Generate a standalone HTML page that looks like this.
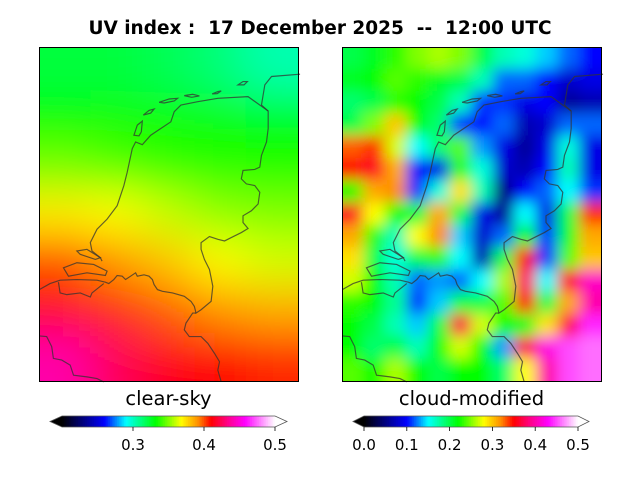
<!DOCTYPE html>
<html><head><meta charset="utf-8"><style>
html,body{margin:0;padding:0;background:#fff;width:640px;height:480px;overflow:hidden;}
svg{display:block;font-family:"DejaVu Sans","Liberation Sans",sans-serif;}
</style></head><body>
<svg id="fig" width="640" height="480" viewBox="0 0 640 480">
<defs>
<clipPath id="clipL"><rect x="39" y="47" width="259" height="334"/></clipPath>
<clipPath id="clipR"><rect x="342" y="47" width="259" height="334"/></clipPath>
<filter id="blurL" x="-20%" y="-20%" width="140%" height="140%"><feGaussianBlur stdDeviation="22"/></filter>
<filter id="blurR" x="-20%" y="-20%" width="140%" height="140%"><feGaussianBlur stdDeviation="7"/></filter>
<g id="coast">
<path d="M785,88 L700,95 L680,120 L670,180 L690,198 L690,250 L685,290 L670,330 L665,365 L650,372 L615,375 L610,400 L625,415 L650,420 L665,440 L660,475 L640,495 L615,510 L615,530 L630,548 L610,560 L580,575 L560,585 L540,580 L515,572 L490,590 L490,610 L500,640 L515,670 L525,720 L520,765 L490,790 L475,800 L470,780 L460,765 L440,750 L405,740 L375,735 L360,730 L350,715 L345,700 L335,690 L320,686 L300,690 L295,680 L280,690 L265,700 L255,690 L240,688 L230,700 L215,712 L205,708 L180,702 L120,700 L70,702 L40,712 L8,730"/>
<path d="M475,800 L465,800 L445,830 L440,850 L455,870 L490,870 L510,890 L530,920 L545,945 L540,970 L550,1005"/>
<path d="M690,198 L630,155 L540,160 L480,170 L430,180 L410,200 L400,230 L370,250 L340,270 L315,298 L295,290 L285,310 L270,380 L260,420 L240,480 L210,520 L180,550 L160,590 L165,615 L190,635 L195,645"/>
<path d="M290,270 L300,240 L315,228 L312,260 L305,272 Z"/>
<path d="M318,210 L335,196 L350,192 L340,204 Z"/>
<path d="M365,172 L395,162 L420,160 L410,168 L380,174 Z"/>
<path d="M440,152 L465,148 L485,153 L462,157 Z"/>
<path d="M523,147 L540,140 L550,138 L538,146 Z"/>
<path d="M600,120 L615,110 L628,110 L618,120 Z"/>
<path d="M120,615 L150,610 L190,635 L175,640 L130,625 Z"/>
<path d="M80,665 L120,650 L170,655 L210,675 L205,688 L150,680 L95,690 Z"/>
<path d="M65,708 L70,740 L90,745 L130,740 L160,752 L165,740 L200,712"/>
<path d="M8,868 L30,870 L45,900 L50,935 L75,940 L100,955 L110,985 L150,990 L180,995 L200,1005"/>
</g>
</defs>
<text x="320" y="34" text-anchor="middle" font-size="18.5" font-weight="bold" style="white-space:pre" xml:space="preserve">UV index :  17 December 2025  --  12:00 UTC</text>
<g id="panelL"></g>
<g id="panelR"></g>
<g id="coastL" transform="translate(39.3,47.3) scale(0.3356) translate(-8,-8)" fill="none" stroke="#333" stroke-opacity="0.75" stroke-width="3.5"><use href="#coast"/></g>
<g id="coastR" transform="translate(342.3,47.3) scale(0.3356) translate(-8,-8)" fill="none" stroke="#333" stroke-opacity="0.75" stroke-width="3.5"><use href="#coast"/></g>
<rect x="39.5" y="47.5" width="259" height="334" fill="none" stroke="#000" stroke-width="1"/>
<rect x="342.5" y="47.5" width="259" height="334" fill="none" stroke="#000" stroke-width="1"/>
<text x="168.5" y="405" text-anchor="middle" font-size="19.5">clear-sky</text>
<text x="471.5" y="405" text-anchor="middle" font-size="19.5">cloud-modified</text>
<g id="cbarL"></g>
<g id="cbarR"></g>
</svg>
<script>
// ---- data ----
const leftRange = [0.2, 0.5];
const rightRange = [0.0, 0.5];
const leftTicks = [0.3, 0.4, 0.5];
const rightTicks = [0.0, 0.1, 0.2, 0.3, 0.4, 0.5];
const clearSky = [
 [0.322,0.322,0.318,0.312,0.303],
 [0.332,0.333,0.333,0.333,0.33],
 [0.348,0.343,0.338,0.336,0.335],
 [0.372,0.368,0.36,0.352,0.35],
 [0.40,0.39,0.38,0.368,0.362],
 [0.412,0.405,0.398,0.39,0.385],
 [0.44,0.425,0.415,0.41,0.405]
];
const cloudModified = [
 [0.2,0.21,0.23,0.25,0.26,0.25,0.2,0.17,0.16,0.14,0.12,0.1],
 [0.21,0.22,0.24,0.23,0.21,0.2,0.17,0.12,0.12,0.1,0.08,0.09],
 [0.19,0.2,0.23,0.22,0.2,0.17,0.11,0.11,0.09,0.1,0.06,0.07],
 [0.2,0.25,0.3,0.22,0.19,0.11,0.1,0.12,0.07,0.08,0.12,0.12],
 [0.33,0.34,0.27,0.15,0.19,0.24,0.13,0.09,0.06,0.09,0.16,0.09],
 [0.35,0.36,0.31,0.1,0.09,0.23,0.16,0.08,0.07,0.1,0.17,0.09],
 [0.22,0.31,0.32,0.11,0.16,0.29,0.17,0.05,0.1,0.12,0.15,0.11],
 [0.36,0.28,0.22,0.2,0.31,0.2,0.09,0.06,0.15,0.09,0.2,0.34],
 [0.31,0.23,0.17,0.28,0.32,0.14,0.08,0.12,0.22,0.11,0.21,0.31],
 [0.29,0.2,0.16,0.2,0.23,0.15,0.07,0.2,0.35,0.11,0.24,0.3],
 [0.27,0.22,0.17,0.12,0.13,0.12,0.15,0.26,0.38,0.15,0.36,0.41],
 [0.23,0.22,0.18,0.11,0.14,0.2,0.2,0.24,0.35,0.2,0.31,0.4],
 [0.22,0.2,0.17,0.14,0.2,0.37,0.27,0.22,0.21,0.29,0.37,0.44],
 [0.22,0.19,0.2,0.17,0.22,0.27,0.22,0.13,0.37,0.42,0.45,0.46],
 [0.24,0.22,0.26,0.22,0.2,0.22,0.22,0.19,0.28,0.4,0.45,0.46]
];
// ---- colormap ----
const cmStops=[[0,0,0,0],[0.2,0,0,255],[0.3,0,255,255],[0.44,0,255,0],[0.56,255,255,0],[0.64,255,140,0],[0.7,255,0,0],[0.78,255,0,140],[0.86,255,0,255],[1,255,255,255]];
function cmap(t){
  t=Math.max(0,Math.min(1,t));
  for(let i=1;i<cmStops.length;i++){
    if(t<=cmStops[i][0]){
      const a=cmStops[i-1],b=cmStops[i],f=(t-a[0])/(b[0]-a[0]);
      return 'rgb('+[1,2,3].map(k=>Math.round(a[k]+(b[k]-a[k])*f)).join(',')+')';
    }
  }
  return 'rgb(255,255,255)';
}
const NS='http://www.w3.org/2000/svg';
function mk(tag,attrs,parent){const e=document.createElementNS(NS,tag);for(const k in attrs)e.setAttribute(k,attrs[k]);parent.appendChild(e);return e;}

function drawMap(gid,data,range,x0,y0,w,h,clip,blur){
  const g=document.getElementById(gid);
  const cg=mk('g',{'clip-path':'url(#'+clip+')'},g);
  const bg=mk('g',{filter:'url(#'+blur+')'},cg);
  const rows=data.length,cols=data[0].length;
  const cw=w/cols,ch=h/rows,pad=3;
  for(let r=-pad;r<rows+pad;r++){
    for(let c=-pad;c<cols+pad;c++){
      const rr=Math.max(0,Math.min(rows-1,r)),cc=Math.max(0,Math.min(cols-1,c));
      const v=data[rr][cc];
      const t=(v-range[0])/(range[1]-range[0]);
      const rect=mk('rect',{x:x0+c*cw-0.5,y:y0+r*ch-0.5,width:cw+1,height:ch+1,fill:cmap(t)},bg);
      
      
    }
  }
}
drawMap('panelL',clearSky,leftRange,39,47,259,334,'clipL','blurL');
drawMap('panelR',cloudModified,rightRange,342,47,259,334,'clipR','blurR');

function drawCbar(gid,range,ticks,x0,x1,triL,triR){
  const g=document.getElementById(gid);
  const y=416,h=11,N=120;
  const sx=v=>x0+(v-range[0])/(range[1]-range[0])*(x1-x0);
  for(let i=0;i<N;i++){
    const xa=x0+(x1-x0)*i/N;
    mk('rect',{x:xa,y:y,width:(x1-x0)/N+0.6,height:h,fill:cmap((i+0.5)/N)},g);
  }
  mk('polygon',{points:`${x0},${y} ${triL},${y+h/2} ${x0},${y+h}`,fill:'#000'},g);
  mk('polygon',{points:`${x1},${y} ${triR},${y+h/2} ${x1},${y+h}`,fill:'#fff'},g);
  mk('polygon',{points:`${x0},${y} ${x1},${y} ${triR},${y+h/2} ${x1},${y+h} ${x0},${y+h} ${triL},${y+h/2}`,fill:'none',stroke:'#555','stroke-width':0.8},g);
  ticks.forEach(v=>{
    const x=sx(v);
    const tk=mk('line',{x1:x,x2:x,y1:y+h,y2:y+h+4,stroke:'#000','stroke-width':0.8},g);
    
    
    const tx=mk('text',{x:x,y:450,'text-anchor':'middle','font-size':15},g);
    tx.textContent=v.toFixed(1);
    
    
  });
}
drawCbar('cbarL',leftRange,leftTicks,62,275,50,287);
drawCbar('cbarR',rightRange,rightTicks,364,578,353,589);
</script>
</body></html>
